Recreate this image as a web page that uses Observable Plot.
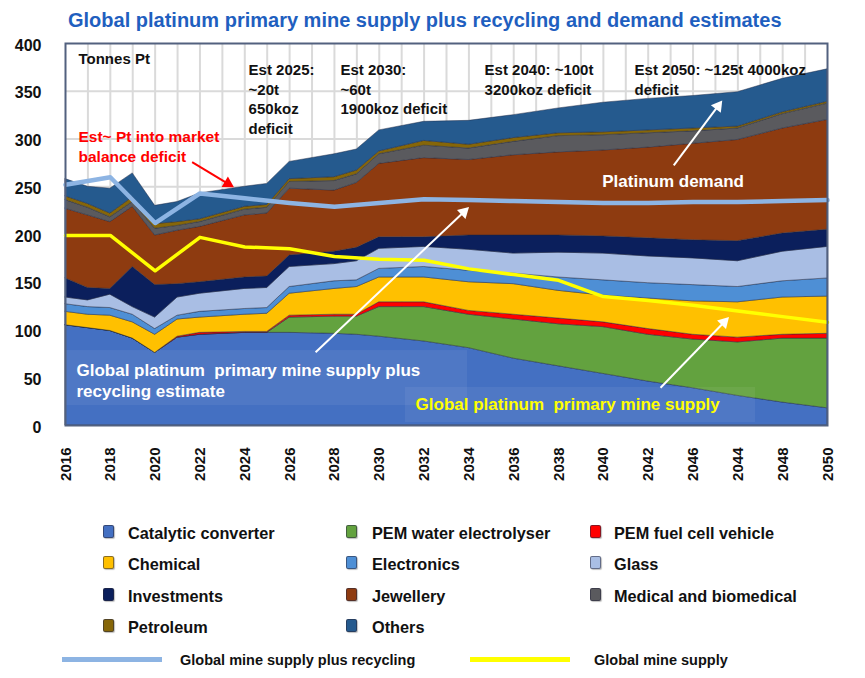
<!DOCTYPE html>
<html><head><meta charset="utf-8">
<script src="https://cdn.jsdelivr.net/npm/d3@7"></script>
<script src="https://cdn.jsdelivr.net/npm/@observablehq/plot@0.6"></script>
<style>
body{margin:0;background:#fff;font-family:"Liberation Sans",Arial,sans-serif;}
#wrap{position:relative;width:865px;height:678px;overflow:hidden;background:#fff;}
#title{position:absolute;left:68px;top:8px;font-size:20px;line-height:24px;font-weight:bold;color:#1f5fbf;white-space:nowrap;}
#chart{position:absolute;left:0;top:33px;}
.lg{position:absolute;font-size:16.3px;font-weight:bold;color:#111;white-space:nowrap;line-height:20px;}
.sw{position:absolute;width:9px;height:11px;border-radius:2px;border:1px solid rgba(40,40,60,0.55);box-shadow:1px 1px 1px rgba(0,0,0,0.25);}
.ll{position:absolute;height:5px;}
.lt{position:absolute;font-size:14.5px;font-weight:bold;color:#111;white-space:nowrap;line-height:18px;}
</style></head><body>
<div id="wrap">
<div id="title">Global platinum primary mine supply plus recycling and demand estimates</div>
<div id="chart"></div>
<div id="legend"></div>
</div>
<script>
// ---- data (tonnes Pt) ----
const years = [2016,2017,2018,2019,2020,2021,2022,2024,2025,2026,2028,2029,2030,2032,2034,2036,2038,2040,2042,2044,2046,2048,2050];
const catalytic      = [105,102,99,91,76,92,95,97,97,97,96,95,93,88,81,70,62,54,46,39,31,24,18];
const pemElectrolyser= [0,0,0,0,0,0,0,0,0,16,18,19,31,36,35,41,44,49,49,51,56,67,73];
const pemFuelCell    = [0,0,0,0,0,1,2,1,1,2,2,2,5,5,4,5,6,5,6,5,5,4,5];
const chemical       = [14,14,16,17,19,18,16,18,19,23,27,29,26,26,30,32,29,28,32,35,37,39,39];
const electronics    = [8,8,8,8,6,4,6,6,6,7,8,7,9,11,12,11,14,16,16,17,16,17,19];
const glass          = [7,7,14,8,12,19,19,21,21,21,18,20,21,21,22,21,26,28,28,28,27,31,33];
const investments    = [20,13,6,42,34,14,12,12,12,12,13,14,12,10,15,19,18,18,19,19,21,19,18];
const jewellery      = [73,76,70,63,52,56,58,65,66,70,64,68,77,83,79,84,87,90,95,101,106,110,115];
const medical        = [9,8,5,5,7,5,5,6,6,7,10,9,10,13,12,14,17,16,15,13,12,15,17];
const petroleum      = [4,4,4,5,5,4,3,3,3,3,4,4,3,5,4,4,3,3,3,3,2,2,2];
const others         = [18,18,26,25,19,21,27,21,22,18,24,22,22,20,25,24,26,31,33,34,36,35,34];

const seriesNames = ["Catalytic converter","PEM water electrolyser","PEM fuel cell vehicle","Chemical","Electronics","Glass","Investments","Jewellery","Medical and biomedical","Petroleum","Others"];
const seriesColors = ["#4470c2","#63a23f","#ff0000","#ffc000","#4e8fd5","#a9bee4","#0b1f5c","#8e3b10","#5a5a5e","#866609","#255a8e"];
const seriesValues = [catalytic,pemElectrolyser,pemFuelCell,chemical,electronics,glass,investments,jewellery,medical,petroleum,others];

const lineYears = [2016,2018,2020,2022,2024,2026,2028,2030,2032,2034,2036,2038,2040,2042,2044,2046,2048,2050];
const supplyPlusRecycling = [252,260,212,243,238,233,229,233,237,236,235,234,233,233,234,234,235,236];
const mineSupply = [199,199,162,197,187,185,177,174,173,164,158,152,135,131,126,120,114,108];

const tickYears  = [2016,2018,2020,2022,2024,2026,2028,2030,2032,2034,2036,2038,2040,2042,2044,2046,2048,2050];
const tickLabels = ["2016","2018","2020","2022","2024","2026","2028","2030","2032","2034","2036","2038","2040","2042","2046","2044","2048","2050"];
const yTicks = [0,50,100,150,200,250,300,350,400];

// annotations (anchor in data units: year, tonnes)
const blackNotes = [
  {x:2016.58, y:392.7, text:"Tonnes Pt"},
  {x:2024.17, y:381.2, text:"Est 2025:\n~20t\n650koz\ndeficit"},
  {x:2028.27, y:381.2, text:"Est 2030:\n~60t\n1900koz deficit"},
  {x:2034.70, y:381.2, text:"Est 2040: ~100t\n3200koz deficit"},
  {x:2041.39, y:381.2, text:"Est 2050: ~125t 4000koz\ndeficit"}
];
const redNote = [{x:2016.58, y:312, text:"Est~ Pt into market\nbalance deficit"}];
const whiteNotes = [
  {x:2039.95, y:265.2, text:"Platinum demand"},
  {x:2016.49, y:67, text:"Global platinum\u00a0 primary mine supply plus\nrecycling estimate"}
];
const yellowNote = [{x:2031.62, y:28.5, text:"Global platinum\u00a0 primary mine supply"}];
const arrowsData = [
  {x1:2021.65, y1:275.7, x2:2023.51, y2:249.5, color:"#ff0000"},
  {x1:2043.14, y1:272.3, x2:2045.30, y2:340.3, color:"white"},
  {x1:2027.16, y1:76.8, x2:2034.0, y2:228.6, color:"white"},
  {x1:2042.55, y1:39.5, x2:2045.6, y2:113.4, color:"white"}
];
const labelBoxes = [
  {x1:2016, x2:2033.94, y1:20.9, y2:78.5},
  {x1:2031.17, x2:2046.79, y1:3.1, y2:39.8}
];

const W = 865, H = 467, ML = 65, MR = 38, MT = 10, MB = 75;
const xs = Plot.scale({x: {type: "linear", domain: [2016, 2050], range: [ML, W - MR]}});
const ys = Plot.scale({y: {type: "linear", domain: [0, 400], range: [H - MB, MT]}});

// arrow shafts end at the centre of a filled triangular head
const headBack = 7;
const arrows = arrowsData.map(a => {
  const px1 = xs.apply(a.x1), py1 = ys.apply(a.y1), px2 = xs.apply(a.x2), py2 = ys.apply(a.y2);
  const dx = px2 - px1, dy = py2 - py1, len = Math.hypot(dx, dy);
  const cx = px2 - dx / len * headBack, cy = py2 - dy / len * headBack;
  return {...a, hx: xs.invert(cx), hy: ys.invert(cy), angle: Math.atan2(dx, -dy) * 180 / Math.PI};
});

const long = seriesNames.flatMap((s,k) => years.map((yr,i) => ({series:s, year:yr, value:seriesValues[k][i]})));
const gridYears = d3.range(2017, 2050);
const gridVals = [50,100,150,200,250,300,350];

const chart = Plot.plot({
  width: W, height: H,
  marginLeft: ML, marginRight: MR, marginTop: MT, marginBottom: MB,
  style: {fontFamily: '"Liberation Sans", Arial, sans-serif', background: "transparent", overflow: "visible"},
  x: {type: "linear", domain: [2016, 2050], axis: null},
  y: {domain: [0, 400], axis: null},
  color: {domain: seriesNames, range: seriesColors},
  marks: [
    Plot.ruleX(gridYears, {x: d => d, stroke: "#dadada", strokeWidth: 2}),
    Plot.ruleY(gridVals, {y: d => d, stroke: "#dadada", strokeWidth: 2}),
    Plot.areaY(long, {x: "year", y: "value", z: "series", fill: "series", order: seriesNames, stroke: "#1c2640", strokeOpacity: 0.45, strokeWidth: 1}),
    Plot.rect(labelBoxes, {x1: "x1", x2: "x2", y1: "y1", y2: "y2", fill: "white", fillOpacity: 0.06}),
    Plot.line(lineYears, {x: d => d, y: (d,i) => supplyPlusRecycling[i], stroke: "#8db4e3", strokeWidth: 4.5}),
    Plot.line(lineYears, {x: d => d, y: (d,i) => mineSupply[i], stroke: "#ffff00", strokeWidth: 3.5}),
    Plot.frame({stroke: "#52617f", strokeWidth: 2}),
    Plot.text(yTicks, {y: d => d, text: d => String(d), frameAnchor: "left", textAnchor: "end", dx: -24, dy: 2, fontSize: 16, fontWeight: "bold", fill: "#111"}),
    Plot.text(tickYears, {x: d => d, text: (d,i) => tickLabels[i], frameAnchor: "bottom", dy: 22, dx: 5, rotate: -90, textAnchor: "end", fontSize: 15, fontWeight: "bold", fill: "#111"}),
    Plot.text(blackNotes, {x: "x", y: "y", text: "text", textAnchor: "start", lineAnchor: "top", lineHeight: 1.3, fontSize: 15, fontWeight: "bold", fill: "#111"}),
    Plot.text(redNote, {x: "x", y: "y", text: "text", textAnchor: "start", lineAnchor: "top", lineHeight: 1.29, fontSize: 15.5, fontWeight: "bold", fill: "#ff0000"}),
    Plot.text(whiteNotes, {x: "x", y: "y", text: "text", textAnchor: "start", lineAnchor: "top", lineHeight: 1.22, fontSize: 17, fontWeight: "bold", fill: "white"}),
    Plot.text(yellowNote, {x: "x", y: "y", text: "text", textAnchor: "start", lineAnchor: "top", fontSize: 17, fontWeight: "bold", fill: "#ffff00"}),
    Plot.link(arrows, {x1: "x1", y1: "y1", x2: "hx", y2: "hy", stroke: "color", strokeWidth: 2}),
    Plot.dot(arrows, {x: "hx", y: "hy", symbol: "triangle", r: 4.6, fill: "color", stroke: "none", rotate: "angle"})
  ]
});
document.getElementById("chart").appendChild(chart);

// ---- legend ----
const lg = document.getElementById("legend");
const colX = [103, 346, 590], textX = [128, 372, 614], rowY = [533, 564, 596, 627];
seriesNames.forEach((name, k) => {
  const r = Math.floor(k / 3), c = k % 3;
  const sw = document.createElement("div");
  sw.className = "sw"; sw.style.left = colX[c] + "px"; sw.style.top = (rowY[r] - 8) + "px"; sw.style.background = seriesColors[k];
  lg.appendChild(sw);
  const t = document.createElement("div");
  t.className = "lg"; t.textContent = name; t.style.left = textX[c] + "px"; t.style.top = (rowY[r] - 10) + "px";
  lg.appendChild(t);
});
const lineLegend = [
  {name: "Global mine supply plus recycling", color: "#8db4e3", lx: 62, tx: 180},
  {name: "Global mine supply", color: "#ffff00", lx: 470, tx: 594}
];
lineLegend.forEach(d => {
  const l = document.createElement("div");
  l.className = "ll"; l.style.left = d.lx + "px"; l.style.top = "657px"; l.style.width = "100px"; l.style.background = d.color;
  lg.appendChild(l);
  const t = document.createElement("div");
  t.className = "lt"; t.textContent = d.name; t.style.left = d.tx + "px"; t.style.top = "651px";
  lg.appendChild(t);
});
</script>
</body></html>
